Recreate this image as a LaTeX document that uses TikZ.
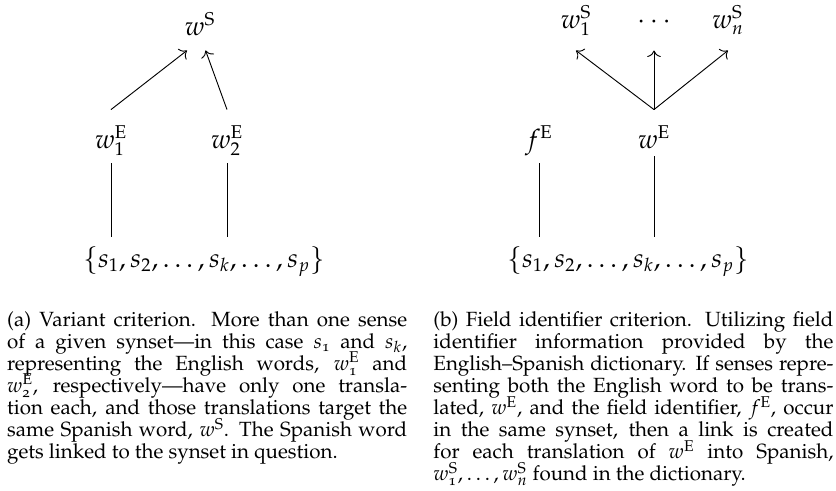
\documentclass[tikz,border=0pt]{standalone}
\usepackage[T1]{fontenc}
\usepackage{mathpazo}
\usetikzlibrary{arrows.meta}
\newcommand{\os}[1]{\mbox{\fontsize{8}{8}\fontfamily{pplj}\selectfont #1}}
\newcommand{\capline}[1]{\hbox to 216pt{#1}}
\newcommand{\capfont}{\fontsize{11.1}{11.95}\selectfont\lineskiplimit=-100pt\relax}
\begin{document}
\begin{tikzpicture}[x=0.54pt, y=-0.54pt, >={To[scale=1.3]}, line width=0.5pt,
  spanish/.style={anchor=base, inner sep=0pt, font=\Large, text depth=11.9pt},
  english/.style={anchor=base, inner sep=0pt, font=\Large, text height=20.5pt, text depth=8.1pt},
  synset/.style={anchor=base, inner sep=0pt, font=\Large, text height=15.7pt},
  caption/.style={anchor=base west, inner sep=0pt, font=\capfont}]
  \useasboundingbox (0,0) rectangle (836,490);
  % (a) Variant
  \node[spanish, text depth=8.1pt] (wS) at (200,35) {$w^{\mathrm{S}}$};
  \node[english] (w1E) at (111,148) {$w_1^{\mathrm{E}}$};
  \node[english] (w2E) at (227,148) {$w_2^{\mathrm{E}}$};
  \node[synset] (synA) at (204,267) {$\{s_1,s_2,\dots,s_k,\dots,s_p\}$};
  \draw[->] (w1E.north) -- ([xshift=-7pt]wS.south);
  \draw[->] (w2E.north) -- ([xshift=3pt]wS.south);
  \draw (w1E.south) -- (w1E.south |- synA.north);
  \draw (w2E.south) -- (w2E.south |- synA.north);
  % (b) Field identifier
  \node[spanish] (w1S) at (576,28) {$w_1^{\mathrm{S}}$};
  \node[spanish] (dotsS) at (654,28) {$\cdots$};
  \node[spanish] (wnS) at (728,28) {$w_n^{\mathrm{S}}$};
  \node[english] (fE) at (539,148) {$f^{\mathrm{E}}$};
  \node[english, text depth=4.3pt] (wE) at (654,148) {$w^{\mathrm{E}}$};
  \node[synset] (synB) at (628,267) {$\{s_1,s_2,\dots,s_k,\dots,s_p\}$};
  \draw[->] (wE.north) -- (w1S.south);
  \draw[->] (wE.north) -- (dotsS.south);
  \draw[->] (wE.north) -- (wnS.south);
  \draw (fE.south) -- (fE.south |- synB.north);
  \draw (wE.south) -- (wE.south |- synB.north);
  % Captions
  \node[caption] (capA) at (6.7,326) {\vtop{\capfont
    \capline{(a) Variant criterion. More than one sense}
    \capline{of a given synset---in this case $s_{\os{1}}$ and $s_k$,}
    \capline{representing the English words, $w_{\os{1}}^{\mathrm{E}}$ and}
    \capline{$w_{\os{2}}^{\mathrm{E}}$, respectively---have only one transla-}
    \capline{tion each, and those translations target the}
    \capline{same Spanish word, $w^{\mathrm{S}}$. The Spanish word}
    \hbox{gets linked to the synset in question.}}};
  \node[caption] (capB) at (433,326) {\vtop{\capfont
    \capline{(b) Field identifier criterion. Utilizing field}
    \capline{identifier information provided by the}
    \capline{English--Spanish dictionary. If senses repre-}
    \capline{senting both the English word to be trans-}
    \capline{lated, $w^{\mathrm{E}}$, and the field identifier, $f^{\mathrm{E}}$, occur}
    \capline{in the same synset, then a link is created}
    \capline{for each translation of $w^{\mathrm{E}}$ into Spanish,}
    \hbox{$w_{\os{1}}^{\mathrm{S}},\dots,w_n^{\mathrm{S}}$ found in the dictionary.}}};
\end{tikzpicture}
\end{document}
